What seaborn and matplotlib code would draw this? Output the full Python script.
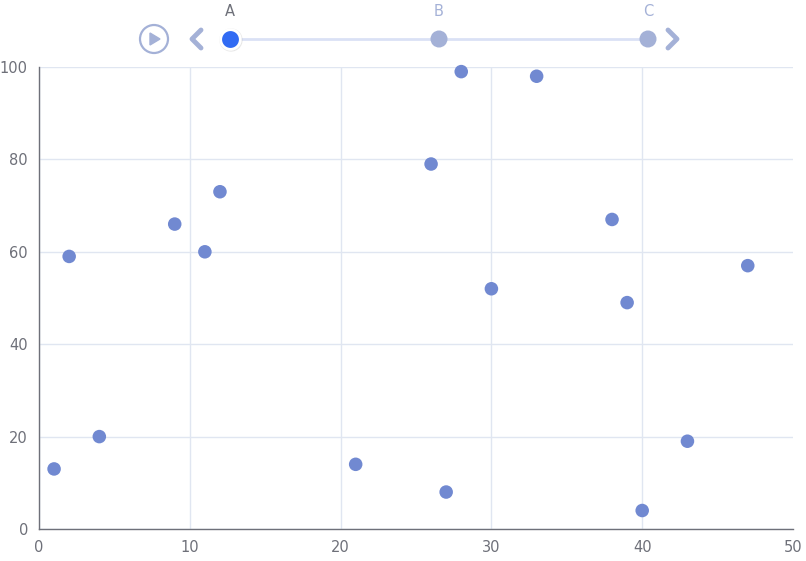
import matplotlib
matplotlib.use("Agg")
import matplotlib.pyplot as plt
import seaborn as sns
import numpy as np
import pandas as pd
from matplotlib.patches import Circle, Polygon

# data (timeline frame "A")
x_vals = [1, 2, 4, 9, 11, 12, 21, 26, 27, 28, 30, 33, 38, 39, 40, 43, 47]
y_vals = [13, 59, 20, 66, 60, 73, 14, 79, 8, 99, 52, 98, 67, 49, 4, 19, 57]
timeline_labels = ["A", "B", "C"]
current_frame = 0
x_ticks = [0, 10, 20, 30, 40, 50]
y_ticks = [0, 20, 40, 60, 80, 100]

W, H = 806, 561
point_color = "#7189d1"
grid_color = "#e0e6f1"
axis_color = "#6e7079"
tl_color = "#a4b1d7"

sns.set_style("white")
plt.rcParams['font.family'] = ['DejaVu Sans']

fig = plt.figure(figsize=(W / 100, H / 100), dpi=100)
ax = fig.add_axes([39 / W, 1 - 529 / H, (793 - 39) / W, (529 - 67) / H])

df = pd.DataFrame({"x": x_vals, "y": y_vals})
sns.scatterplot(data=df, x="x", y="y", ax=ax, color=point_color, s=95,
                edgecolor="none", zorder=3, clip_on=False)

ax.set_xlim(0, 50)
ax.set_ylim(0, 100)
ax.set_xticks(x_ticks)
ax.set_yticks(y_ticks)
ax.set_xlabel("")
ax.set_ylabel("")
ax.grid(True, color=grid_color, linewidth=1)
ax.set_axisbelow(True)
# no vertical grid line at the right edge
ax.xaxis.get_gridlines()[-1].set_visible(False)
for side in ["top", "right"]:
    ax.spines[side].set_visible(False)
for side in ["left", "bottom"]:
    ax.spines[side].set_color(axis_color)
    ax.spines[side].set_linewidth(1)
ax.tick_params(axis="both", colors=axis_color, labelcolor=axis_color,
               labelsize=10.5, length=5, width=1, pad=3)

# timeline strip on top, in pixel units
tl = fig.add_axes([0, 1 - 60 / H, 1, 60 / H])
tl.set_xlim(0, W)
tl.set_ylim(60, 0)
tl.axis("off")

ty = 39
positions = np.linspace(230, 648, len(timeline_labels))
tl.plot([positions[0], positions[-1]], [ty, ty], color="#dae1f5", lw=2, zorder=1)
for i, (p, lab) in enumerate(zip(positions, timeline_labels)):
    if i == current_frame:
        tl.scatter([p + 1], [ty + 1], s=280, color="#bbbbbb", alpha=0.35,
                   edgecolor="none", zorder=3)
        tl.scatter([p], [ty], s=200, color="#316bf3", edgecolor="white",
                   linewidth=2, zorder=4)
        tl.text(p, 11, lab, ha="center", va="center", fontsize=10.5, color=axis_color)
    else:
        tl.scatter([p], [ty], s=150, color=tl_color, edgecolor="none", zorder=3)
        tl.text(p, 11, lab, ha="center", va="center", fontsize=10.5, color=tl_color)

# play button
tl.add_patch(Circle((154, ty), 14, fill=False, edgecolor=tl_color, lw=1.6))
tl.add_patch(Polygon([[150, ty - 6], [150, ty + 6], [160, ty]], closed=True,
                     color=tl_color))
# prev / next arrows
tl.plot([201, 192, 201], [ty - 9, ty, ty + 9], color=tl_color, lw=3.5,
        solid_capstyle="round", solid_joinstyle="round")
tl.plot([668, 677, 668], [ty - 9, ty, ty + 9], color=tl_color, lw=3.5,
        solid_capstyle="round", solid_joinstyle="round")

fig.savefig("out.png", dpi=100)
